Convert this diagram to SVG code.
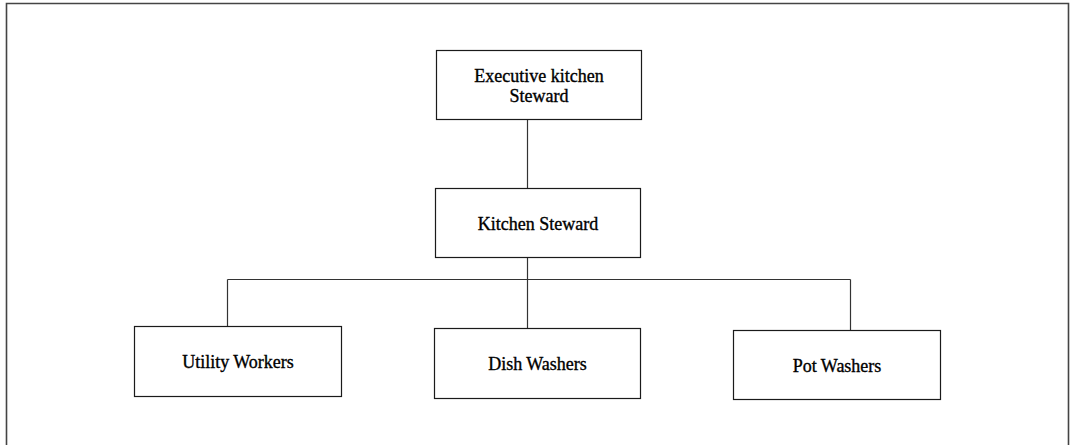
<svg xmlns="http://www.w3.org/2000/svg" width="1070" height="445" viewBox="0 0 1070 445">
  <style>
    .box { fill: #ffffff; stroke: #1a1a1a; stroke-width: 1.2; }
    .lbl { font-family: "Liberation Serif", "Times New Roman", serif; font-size: 18px; fill: #000000; stroke: #000000; stroke-width: 0.35; text-anchor: middle; }
    .link { fill: none; stroke: #333333; stroke-width: 1.2; }
    .frame { fill: none; stroke: #444444; stroke-width: 1.6; }
  </style>
  <rect x="0" y="0" width="1070" height="445" fill="#ffffff"/>
  <!-- outer frame, open at the bottom -->
  <path class="frame" d="M6.5,445 V3.5 H1068.5 V445"/>

  <g id="connectors">
    <line class="link" x1="527.5" y1="119" x2="527.5" y2="188"/>
    <line class="link" x1="527.5" y1="257" x2="527.5" y2="328"/>
    <line class="link" x1="227.5" y1="279.5" x2="850.5" y2="279.5"/>
    <line class="link" x1="227.5" y1="279.5" x2="227.5" y2="326"/>
    <line class="link" x1="850.5" y1="279.5" x2="850.5" y2="330"/>
  </g>

  <g id="executive-kitchen-steward">
    <rect class="box" x="436.5" y="50.5" width="205" height="69"/>
    <text class="lbl" x="539" y="82">Executive kitchen</text>
    <text class="lbl" x="539" y="102">Steward</text>
  </g>

  <g id="kitchen-steward">
    <rect class="box" x="435.5" y="188.5" width="205" height="69"/>
    <text class="lbl" x="538" y="230">Kitchen Steward</text>
  </g>

  <g id="utility-workers">
    <rect class="box" x="134.5" y="326.5" width="207" height="70"/>
    <text class="lbl" x="238" y="368">Utility Workers</text>
  </g>

  <g id="dish-washers">
    <rect class="box" x="434.5" y="328.5" width="206" height="70"/>
    <text class="lbl" x="537.5" y="370">Dish Washers</text>
  </g>

  <g id="pot-washers">
    <rect class="box" x="733.5" y="330.5" width="207" height="69"/>
    <text class="lbl" x="837" y="372">Pot Washers</text>
  </g>
</svg>
